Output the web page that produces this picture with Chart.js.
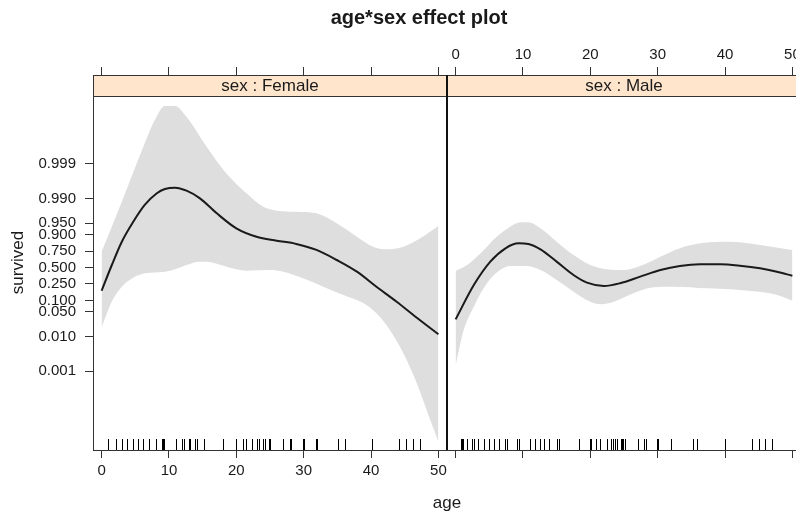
<!DOCTYPE html>
<html>
<head>
<meta charset="utf-8">
<title>age*sex effect plot</title>
<script src="https://cdn.jsdelivr.net/npm/chart.js@4.4.1/dist/chart.umd.min.js"></script>
<style>
  html, body { margin: 0; padding: 0; background: #fff; overflow: hidden; }
  #wrap { width: 796px; height: 512px; overflow: hidden; }
</style>
</head>
<body>
<div id="wrap"><canvas id="effect" width="801" height="512"></canvas></div>
<script>
const FONT = '"Liberation Sans", Arial, Helvetica, sans-serif';

// y axis is on the logit scale, labelled with probabilities
const yTickProbs = [0.001, 0.01, 0.05, 0.1, 0.25, 0.5, 0.75, 0.9, 0.95, 0.99, 0.999];
const yTickLabels = ['0.001', '0.010', '0.050', '0.100', '0.250', '0.500', '0.750', '0.900', '0.950', '0.990', '0.999'];
const xTicks = [0, 10, 20, 30, 40, 50];
const panelNames = ['sex : Female', 'sex : Male'];

// Female: fitted logit and confidence band
const femaleFitAge = [0, 1.5, 3, 4.7, 6.4, 8.2, 9.4, 10.9, 12.6, 14.6, 17.1, 20, 23, 26, 28.9, 31.9, 34.9, 37.9, 40.8, 43.8, 46.8, 50];
const femaleFit = [-1.55, 0.15, 1.72, 3.05, 4.17, 4.95, 5.23, 5.32, 5.12, 4.61, 3.61, 2.61, 2.05, 1.79, 1.57, 1.17, 0.5, -0.28, -1.28, -2.28, -3.35, -4.45];
const femaleUpperAge = [0, 3, 5.9, 7.9, 9.4, 10.9, 12.6, 15.6, 18.5, 21.5, 24, 26, 28.9, 31.9, 34.9, 37.9, 40.3, 42.3, 44.8, 47.3, 50];
const femaleUpper = [1.05, 4.39, 7.72, 9.83, 10.77, 10.77, 10.05, 8.05, 6.28, 4.95, 4.05, 3.79, 3.72, 3.61, 2.95, 2.05, 1.39, 1.21, 1.39, 1.95, 2.77];
const femaleLowerAge = [0, 1.5, 3, 4.7, 6.4, 9.4, 10.9, 12.6, 14.6, 15.6, 18.1, 20, 21.5, 25, 27, 29.9, 32.9, 35.9, 38.9, 40.8, 42.8, 44.8, 46.8, 48.8, 50];
const femaleLower = [-3.99, -2.28, -1.28, -0.68, -0.39, -0.28, -0.12, 0.17, 0.39, 0.39, 0.12, -0.12, -0.21, -0.17, -0.28, -0.72, -1.28, -1.83, -2.39, -3.05, -4.17, -5.72, -7.72, -10.17, -11.61];

// Male: fitted logit and confidence band
const maleFitAge = [0, 2.7, 5.15, 7.4, 9.35, 10.8, 12.6, 15, 17.5, 19.5, 22, 24.4, 27.4, 30.4, 33.3, 36.3, 39.3, 42.2, 45.2, 47.7, 50];
const maleFit = [-3.46, -1.17, 0.39, 1.28, 1.61, 1.57, 1.21, 0.39, -0.5, -1.01, -1.23, -1.05, -0.61, -0.17, 0.1, 0.21, 0.21, 0.12, -0.05, -0.28, -0.55];
const maleUpperAge = [0, 1.7, 3.7, 6.1, 8.1, 9.6, 10.8, 12.6, 15, 17.5, 20, 22.5, 24.9, 27.4, 30.4, 33.3, 36.3, 39.3, 42.2, 45.2, 50];
const maleUpper = [-0.23, 0.17, 0.95, 2.05, 2.72, 3.01, 3.01, 2.61, 1.72, 0.83, 0.17, -0.12, -0.17, 0.1, 0.72, 1.28, 1.61, 1.72, 1.68, 1.5, 1.17];
const maleLowerAge = [0, 1.2, 2.7, 4.65, 6.6, 8.1, 10.5, 12.6, 15, 17.5, 20, 21.5, 23.5, 26.4, 29.4, 32.4, 37.3, 42.2, 47.2, 50];
const maleLower = [-6.5, -4.17, -2.61, -1.05, -0.17, 0.1, 0.1, -0.17, -0.83, -1.61, -2.28, -2.45, -2.28, -1.72, -1.32, -1.28, -1.39, -1.5, -1.77, -2.21];

// observed ages (rug)
const femaleRug = [0.9, 1, 2.2, 3, 3.8, 4.7, 5.4, 6.2, 7.1, 8, 8.9, 9.1, 9.2, 11, 12, 12.2, 12.9, 13.1, 13.9, 14.1, 15.2, 18, 19.9, 20, 21, 21.5, 22.3, 23.1, 23.4, 24, 24.3, 24.9, 25, 26.9, 27.9, 28.1, 29.9, 30, 31.9, 32, 35.1, 36.1, 40.1, 44.1, 45.2, 46.2, 47.2];
const maleRug = [0.8, 0.9, 1.1, 1.7, 2.4, 2.7, 3.3, 4.2, 4.9, 5.7, 6.4, 7.3, 7.6, 9.1, 9.4, 11.1, 11.8, 12.6, 13.1, 13.8, 15, 15.3, 18.3, 19.9, 20, 20.1, 20.8, 21.5, 22.5, 23, 23.4, 23.6, 24, 24.5, 24.7, 24.9, 25.2, 27.1, 28, 28.3, 29.9, 30, 30.1, 32, 35.2, 35.9, 40, 44, 45, 46, 47];

const BAND = 'rgb(222,222,222)';
const INK = '#1a1a1a';
const STRIP_H = 21;

const logit = p => Math.log(p / (1 - p));
const pts = (xs, ys) => xs.map((x, i) => ({ x: x, y: ys[i] }));
const none = 'rgba(0,0,0,0)';

function panelSets(axis, fitAge, fit, upAge, up, loAge, lo, base) {
  return [
    { data: pts(fitAge, fit), xAxisID: axis, borderColor: INK, borderWidth: 2, fill: false },
    { data: pts(upAge, up), xAxisID: axis, borderColor: none, borderWidth: 0, fill: false },
    { data: pts(loAge, lo), xAxisID: axis, borderColor: none, borderWidth: 0, backgroundColor: BAND, fill: base + 1 }
  ];
}

function xAxis(position, showLabels, padding) {
  return {
    type: 'linear',
    position: position,
    stack: position,
    min: -1.28,
    max: 51.28,
    afterBuildTicks: s => { s.ticks = xTicks.map(v => ({ value: v })); },
    afterFit: s => {
      s.height = position === 'top' ? 75 : 62;
      s.paddingLeft = 0;
      s.paddingRight = 0;
    },
    border: { display: false },
    grid: { drawOnChartArea: false, drawTicks: true, tickLength: 8, color: '#333', lineWidth: 1 },
    ticks: { display: showLabels, padding: padding, color: INK, font: { family: FONT, size: 15 }, maxRotation: 0 }
  };
}

const latticeDecor = {
  id: 'latticeDecor',
  afterDatasetsDraw(chart) {
    const { ctx, chartArea } = chart;
    const axes = [chart.scales.xF, chart.scales.xM];
    const rugs = [femaleRug, maleRug];
    ctx.save();
    axes.forEach((sx, i) => {
      ctx.strokeStyle = '#000';
      ctx.lineWidth = 1;
      ctx.beginPath();
      rugs[i].forEach(a => {
        const px = Math.round(sx.getPixelForValue(a)) + 0.5;
        ctx.moveTo(px, chartArea.bottom);
        ctx.lineTo(px, chartArea.bottom - 11);
      });
      ctx.stroke();

      ctx.fillStyle = '#FFE5CC';
      ctx.fillRect(sx.left, chartArea.top, sx.width, STRIP_H);
      ctx.strokeStyle = '#333';
      ctx.strokeRect(sx.left + 0.5, chartArea.top + 0.5, sx.width, STRIP_H);
      ctx.strokeRect(sx.left + 0.5, chartArea.top + 0.5, sx.width, chartArea.height);

      ctx.fillStyle = INK;
      ctx.font = '17px ' + FONT;
      ctx.textAlign = 'center';
      ctx.textBaseline = 'middle';
      ctx.fillText(panelNames[i], (sx.left + sx.right) / 2, chartArea.top + STRIP_H / 2 + 1);
    });
    // shared border between the two panels
    ctx.strokeStyle = '#111';
    ctx.lineWidth = 2;
    ctx.beginPath();
    ctx.moveTo(chart.scales.xM.left, chartArea.top);
    ctx.lineTo(chart.scales.xM.left, chartArea.bottom);
    ctx.stroke();
    ctx.restore();
  },
  afterDraw(chart) {
    const { ctx, chartArea } = chart;
    ctx.save();
    ctx.fillStyle = INK;
    ctx.textAlign = 'center';
    ctx.textBaseline = 'alphabetic';
    // the original figure was wider than the window, so its title sits right of centre
    ctx.font = 'bold 20px ' + FONT;
    ctx.fillText('age*sex effect plot', 419, 24);
    ctx.font = '17px ' + FONT;
    ctx.fillText('age', (chartArea.left + chartArea.right) / 2, 508);
    ctx.restore();
  }
};

new Chart(document.getElementById('effect'), {
  type: 'line',
  data: {
    datasets: [
      ...panelSets('xF', femaleFitAge, femaleFit, femaleUpperAge, femaleUpper, femaleLowerAge, femaleLower, 0),
      ...panelSets('xM', maleFitAge, maleFit, maleUpperAge, maleUpper, maleLowerAge, maleLower, 3)
    ]
  },
  options: {
    responsive: false,
    animation: false,
    layout: { padding: 0 },
    elements: {
      point: { radius: 0, hoverRadius: 0 },
      line: { cubicInterpolationMode: 'monotone' }
    },
    plugins: { legend: { display: false }, tooltip: { enabled: false }, title: { display: false } },
    scales: {
      // top boxes are laid out in reverse order, so the male axis comes first here
      xMt: xAxis('top', true, 3),
      xFt: xAxis('top', false, 3),
      xF: xAxis('bottom', true, 4),
      xM: xAxis('bottom', false, 4),
      y: {
        type: 'linear',
        position: 'left',
        min: -12.167,
        max: 12.833,
        afterBuildTicks: s => { s.ticks = yTickProbs.map(p => ({ value: logit(p) })); },
        afterFit: s => { s.width = 93; s.paddingTop = 0; s.paddingBottom = 0; },
        border: { display: false },
        grid: { drawOnChartArea: false, drawTicks: true, tickLength: 8, color: '#333', lineWidth: 1 },
        ticks: {
          autoSkip: false,
          padding: 9,
          color: INK,
          font: { family: FONT, size: 15 },
          callback: (v, i) => yTickLabels[i]
        },
        title: { display: true, text: 'survived', color: INK, font: { family: FONT, size: 17 }, padding: { top: 8 } }
      }
    }
  },
  plugins: [latticeDecor]
});
</script>
</body>
</html>
